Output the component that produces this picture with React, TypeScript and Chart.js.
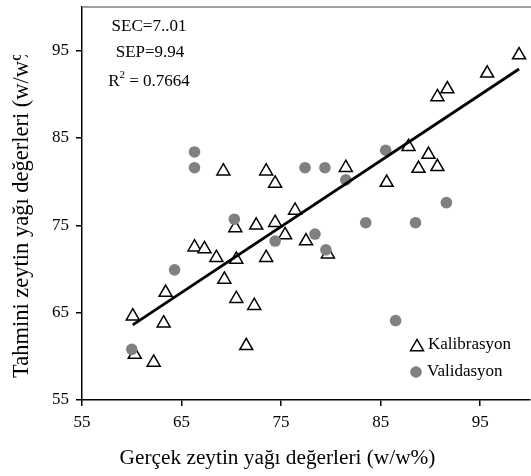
import React, { useEffect, useRef } from "react";
import { Chart, registerables } from "chart.js";

Chart.register(...registerables);

const X_TICKS = [55, 65, 75, 85, 95];
const Y_TICKS = [55, 65, 75, 85, 95];
const X_MIN = 55;
const X_MAX = 100;
const Y_MIN = 55;
const Y_MAX = 100;

// Kalibrasyon (triangles)
const CAL_X = [98.9, 95.7, 91.7, 90.7, 87.8, 89.8, 88.8, 90.7, 85.6, 81.5, 76.4, 75.4, 77.5, 79.7, 69.2, 73.5, 74.4, 72.5, 74.4, 70.4, 66.3, 67.3, 68.5, 70.5, 73.5, 69.3, 63.4, 70.5, 72.3, 60.1, 63.2, 71.5, 60.3, 62.2];
const CAL_Y = [94.5, 92.4, 90.6, 89.7, 84.0, 83.1, 81.5, 81.7, 79.9, 81.6, 76.7, 73.9, 73.2, 71.7, 81.2, 81.2, 79.8, 75.0, 75.3, 74.7, 72.5, 72.3, 71.3, 71.1, 71.3, 68.8, 67.3, 66.6, 65.8, 64.6, 63.8, 61.2, 60.2, 59.3];

// Validasyon (grey circles)
const VAL_X = [66.3, 66.3, 85.5, 77.4, 79.4, 81.5, 91.6, 83.5, 88.5, 78.4, 79.5, 86.5, 70.3, 74.4, 64.3, 60.0];
const VAL_Y = [83.4, 81.6, 83.6, 81.6, 81.6, 80.2, 77.6, 75.3, 75.3, 74.0, 72.2, 64.1, 75.7, 73.2, 69.9, 60.8];

// Regression line end points
const FIT_X = [60.1, 98.9];
const FIT_Y = [63.6, 92.9];

const SERIES_NAMES = ["Kalibrasyon", "Validasyon"];
const STATS = ["SEC=7..01", "SEP=9.94"];
const R2_VALUE = "0.7664";
const X_TITLE = "Gerçek zeytin yağı değerleri (w/w%)";
const Y_TITLE = "Tahmini zeytin yağı değerleri (w/w%)";

const FONT = '"Liberation Serif", "Times New Roman", serif';

export default function App() {
  const ref = useRef<HTMLCanvasElement>(null);

  useEffect(() => {
    const canvas = ref.current!;
    const overlay = {
      id: "overlay",
      afterDraw(chart: any) {
        const ctx = chart.ctx as CanvasRenderingContext2D;
        const a = chart.chartArea;
        ctx.save();
        // top border
        ctx.strokeStyle = "#808080";
        ctx.lineWidth = 1.5;
        ctx.beginPath();
        ctx.moveTo(a.left, a.top);
        ctx.lineTo(a.right + 1, a.top);
        ctx.stroke();

        // x tick labels
        const xs = chart.scales.x;
        ctx.fillStyle = "#000";
        ctx.font = `17px ${FONT}`;
        ctx.textAlign = "center";
        ctx.textBaseline = "middle";
        X_TICKS.forEach((v) => {
          ctx.fillText(String(v), xs.getPixelForValue(v), a.bottom + 23);
        });

        // stats text
        ctx.fillText(STATS[0], 149, 27);
        ctx.fillText(STATS[1], 150, 53);
        // R^2 = ...
        const eq = " = " + R2_VALUE;
        const wR = ctx.measureText("R").width;
        const wEq = ctx.measureText(eq).width;
        ctx.font = `11px ${FONT}`;
        const wS = ctx.measureText("2").width;
        const total = wR + wS + wEq;
        const sx = 149 - total / 2;
        ctx.textAlign = "left";
        ctx.font = `17px ${FONT}`;
        ctx.fillText("R", sx, 82);
        ctx.font = `11px ${FONT}`;
        ctx.fillText("2", sx + wR, 75);
        ctx.font = `17px ${FONT}`;
        ctx.fillText(eq, sx + wR + wS, 82);

        // legend
        const tx = 417, ty = 345, r = 7.5;
        ctx.beginPath();
        ctx.moveTo(tx, ty - 0.75 * r);
        ctx.lineTo(tx + r * Math.sin((2 * Math.PI) / 3), ty + 0.75 * r);
        ctx.lineTo(tx - r * Math.sin((2 * Math.PI) / 3), ty + 0.75 * r);
        ctx.closePath();
        ctx.fillStyle = "#fff";
        ctx.fill();
        ctx.strokeStyle = "#000";
        ctx.lineWidth = 1.5;
        ctx.stroke();
        ctx.beginPath();
        ctx.arc(416, 372, 5.8, 0, Math.PI * 2);
        ctx.fillStyle = "#808080";
        ctx.fill();
        ctx.fillStyle = "#000";
        ctx.font = `17px ${FONT}`;
        ctx.textAlign = "left";
        ctx.textBaseline = "middle";
        ctx.fillText(SERIES_NAMES[0], 428, 345);
        ctx.fillText(SERIES_NAMES[1], 427, 372);

        // x title
        ctx.font = `21.3px ${FONT}`;
        ctx.textAlign = "center";
        ctx.fillText(X_TITLE, 277.5, 458);

        // y title (clipped at top like the reference)
        ctx.save();
        ctx.beginPath();
        ctx.rect(0, 55, 45, 421);
        ctx.clip();
        ctx.font = `22.5px ${FONT}`;
        ctx.translate(22, 378);
        ctx.rotate(-Math.PI / 2);
        ctx.textAlign = "left";
        ctx.textBaseline = "middle";
        ctx.fillText(Y_TITLE, 0, 0);
        ctx.restore();

        ctx.restore();
      },
    };

    const gridOpts = {
      display: true,
      drawOnChartArea: false,
      drawTicks: true,
      tickLength: 6,
      color: "#000",
      lineWidth: 1.5,
    };
    const borderOpts = { display: true, color: "#000", width: 1.5 };

    const chart = new Chart(canvas, {
      type: "scatter",
      data: {
        datasets: [
          {
            label: "fit",
            data: FIT_X.map((x, i) => ({ x, y: FIT_Y[i] })),
            showLine: true,
            borderColor: "#000",
            borderWidth: 2.8,
            pointRadius: 0,
            order: 0,
          } as any,
          {
            label: SERIES_NAMES[1],
            data: VAL_X.map((x, i) => ({ x, y: VAL_Y[i] })),
            pointStyle: "circle",
            pointRadius: 5.8,
            backgroundColor: "#808080",
            borderWidth: 0,
            order: 1,
          },
          {
            label: SERIES_NAMES[0],
            data: CAL_X.map((x, i) => ({ x, y: CAL_Y[i] })),
            pointStyle: "triangle",
            pointRadius: 7.5,
            backgroundColor: "#fff",
            borderColor: "#000",
            borderWidth: 1.5,
            order: 2,
          },
        ],
      },
      options: {
        responsive: false,
        animation: false,
        devicePixelRatio: 1,
        layout: { autoPadding: false, padding: { top: 7, right: 1, left: 0, bottom: 0 } },
        plugins: { legend: { display: false }, tooltip: { enabled: false } },
        scales: {
          x: {
            type: "linear",
            min: X_MIN,
            max: X_MAX,
            grid: gridOpts,
            border: borderOpts,
            ticks: { display: false },
            afterBuildTicks: (s: any) => {
              s.ticks = X_TICKS.map((v) => ({ value: v }));
            },
            afterFit: (s: any) => {
              s.height = 76;
              s.paddingLeft = 0;
              s.paddingRight = 0;
            },
          },
          y: {
            type: "linear",
            min: Y_MIN,
            max: Y_MAX,
            grid: gridOpts,
            border: borderOpts,
            ticks: {
              font: { family: FONT, size: 17 },
              color: "#000",
              padding: 7,
            },
            afterBuildTicks: (s: any) => {
              s.ticks = Y_TICKS.map((v) => ({ value: v }));
            },
            afterFit: (s: any) => {
              s.width = 82;
              s.paddingTop = 0;
              s.paddingBottom = 0;
            },
          },
        },
      } as any,
      plugins: [overlay],
    });
    return () => chart.destroy();
  }, []);

  return (
    <div style={{ position: "fixed", left: 0, top: 0, width: 531, height: 476, background: "#fff" }}>
      <canvas ref={ref} width={531} height={476} />
    </div>
  );
}
